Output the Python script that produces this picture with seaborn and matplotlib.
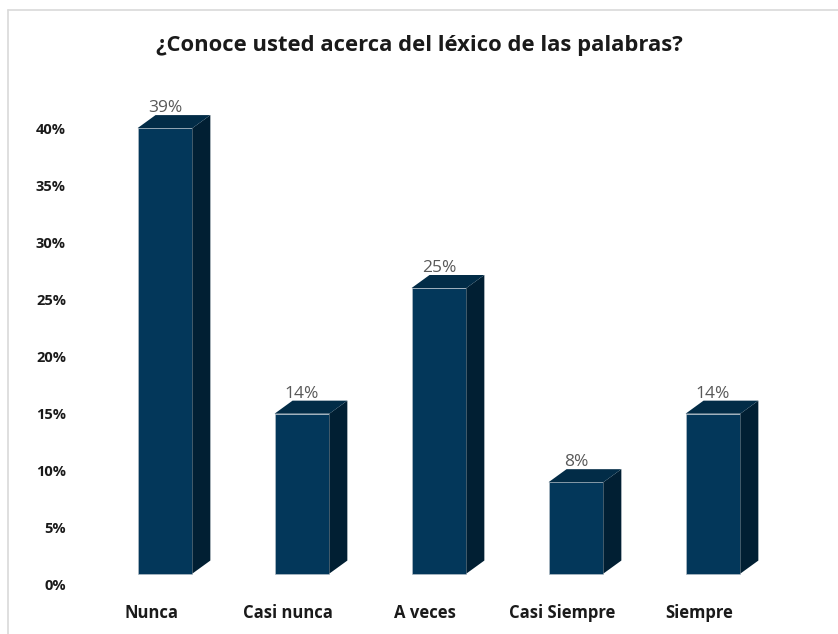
import matplotlib
matplotlib.use("Agg")
import matplotlib.pyplot as plt
import matplotlib.transforms as mtransforms
from matplotlib.patches import Polygon
from matplotlib.lines import Line2D
import seaborn as sns
import pandas as pd

# data
categories = ["Nunca", "Casi nunca", "A veces", "Casi Siempre", "Siempre"]
values = [39, 14, 25, 8, 14]
value_labels = ["39%", "14%", "25%", "8%", "14%"]
yticks = [0, 5, 10, 15, 20, 25, 30, 35, 40]

df = pd.DataFrame({"categoria": categories, "porcentaje": values})

front = "#03375a"
top_c = "#022c47"
side = "#011f33"

sns.set_style("white")
plt.rcParams["font.family"] = ["Open Sans", "DejaVu Sans"]

fig = plt.figure(figsize=(8.38, 6.34), dpi=100)
ax = fig.add_axes([96.5 / 838, 49 / 634, 685 / 838, 514 / 634])

sns.barplot(data=df, x="categoria", y="porcentaje", color=front, saturation=1,
            width=0.4, edgecolor="#b0bcc5", linewidth=0.5, ax=ax)

ax.set_xlim(-0.5, 4.5)
ax.set_ylim(0, 45)

# fake 3d: floor, depth offset
floor = 1.0
dx, dy = 0.131, 1.14
for bar, lab in zip(ax.patches, value_labels):
    bar.set_y(floor)
    x0 = bar.get_x()
    x1 = x0 + bar.get_width()
    t = floor + bar.get_height()
    ax.add_patch(Polygon([(x1, floor), (x1 + dx, floor + dy), (x1 + dx, t + dy), (x1, t)],
                         closed=True, facecolor=side, edgecolor="none", zorder=2))
    ax.add_patch(Polygon([(x0, t), (x0 + dx, t + dy), (x1 + dx, t + dy), (x1, t)],
                         closed=True, facecolor=top_c, edgecolor="none", zorder=2))
    ax.text((x0 + x1) / 2, t + dy - 0.1, lab, ha="center", va="bottom",
            fontsize=12.5, color="#595959")

sns.despine(ax=ax, left=True, bottom=True)
ax.set_xlabel("")
ax.set_ylabel("")
ax.set_yticks(yticks)
ax.set_yticklabels([f"{v}%" for v in yticks], fontsize=10.5, fontweight="bold", color="#1a1a1a")
ax.set_xticks(range(len(categories)))
ax.set_xticklabels(categories, fontsize=12, fontweight="bold", color="#1a1a1a")
ax.tick_params(axis="y", length=0, pad=22)
ax.tick_params(axis="x", length=0, pad=14)
shift = mtransforms.ScaledTranslation(-14 / 100, 0, fig.dpi_scale_trans)
for t in ax.get_xticklabels():
    t.set_transform(t.get_transform() + shift)

fig.suptitle("¿Conoce usted acerca del léxico de las palabras?", x=0.5, y=1 - 45 / 634,
             fontsize=15.8, fontweight="bold", color="#1a1a1a", va="center")

# chart frame (light grey, top and left)
fig.add_artist(Line2D([7.5 / 838, 7.5 / 838], [0, 1 - 10 / 634], transform=fig.transFigure,
                      color="#d9d9d9", linewidth=1.2))
fig.add_artist(Line2D([7.5 / 838, 1], [1 - 10 / 634, 1 - 10 / 634], transform=fig.transFigure,
                      color="#d9d9d9", linewidth=1.2))

fig.savefig("out.png", dpi=100)
